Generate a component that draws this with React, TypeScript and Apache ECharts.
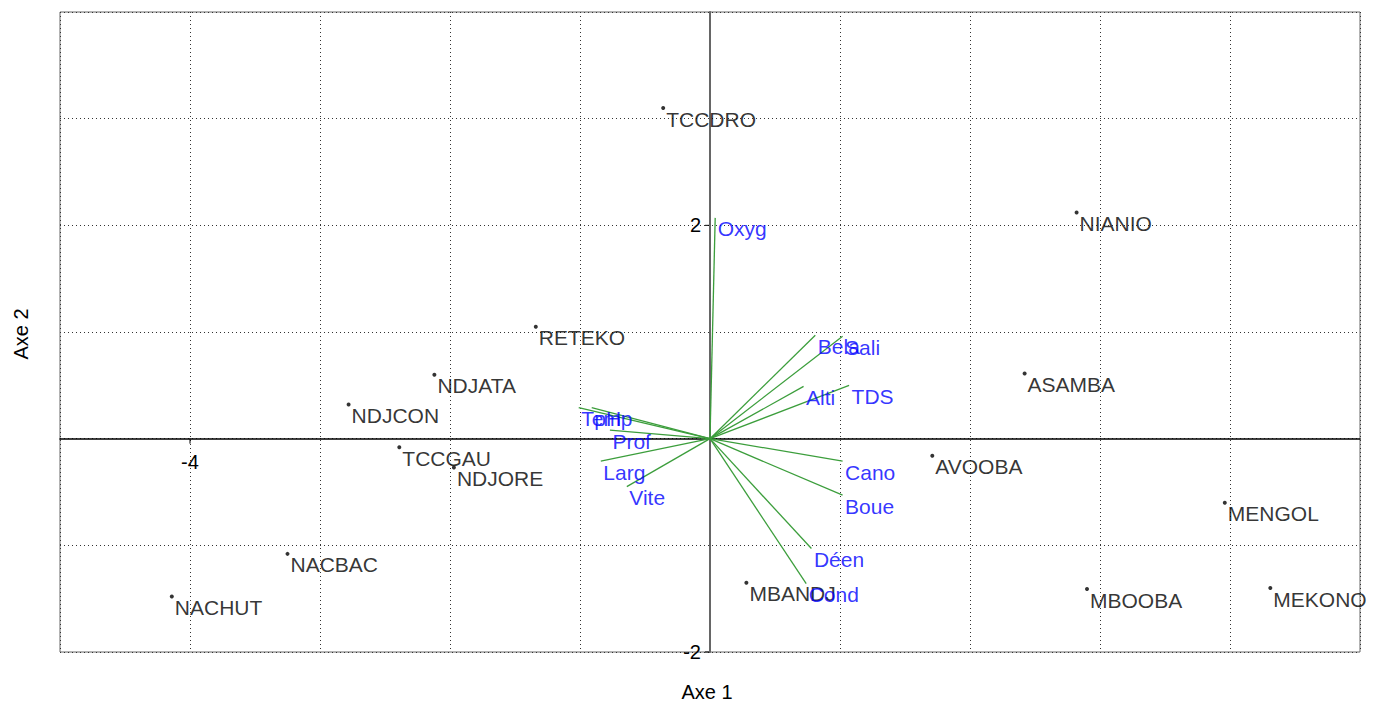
import React, { useEffect, useRef } from "react";
import * as echarts from "echarts";

const siteNames = ["TCCDRO", "NIANIO", "RETEKO", "ASAMBA", "NDJATA", "NDJCON", "TCCGAU", "NDJORE", "NACBAC", "NACHUT", "AVOOBA", "MENGOL", "MBOOBA", "MEKONO", "MBANDJ"];
const siteX = [-0.36, 2.82, -1.34, 2.42, -2.12, -2.78, -2.39, -1.97, -3.25, -4.14, 1.71, 3.96, 2.9, 4.31, 0.28];
const siteY = [3.1, 2.12, 1.05, 0.61, 0.6, 0.32, -0.08, -0.27, -1.08, -1.48, -0.16, -0.6, -1.41, -1.4, -1.35];

const varNames = ["Oxyg", "Bela", "Sali", "Alti", "TDS", "Temp", "pH", "Prof", "Larg", "Vite", "Cano", "Boue", "Déen", "Cond"];
const varX = [0.04, 0.81, 1.02, 0.72, 1.07, -1.01, -0.91, -0.77, -0.84, -0.64, 1.02, 1.02, 0.78, 0.74];
const varY = [2.07, 0.97, 0.96, 0.49, 0.5, 0.29, 0.29, 0.08, -0.21, -0.45, -0.21, -0.53, -1.03, -1.36];

const xTickLabels = [-4];
const yTickLabels = [2, -2];

const FONT = "'Liberation Sans', Arial, sans-serif";

export default function App() {
  const ref = useRef<HTMLDivElement>(null);
  useEffect(() => {
    document.body.style.margin = "0";
    const chart = echarts.init(ref.current!, null, { renderer: "svg" });
    const splitLine = { show: true, lineStyle: { color: "#333", type: [1, 3] as any, width: 1 } };
    const labelCommon = {
      show: true,
      position: "right",
      offset: [0, 11],
      formatter: (p: any) => p.name,
      fontSize: 21,
      fontFamily: FONT,
    };
    chart.setOption({
      animation: false,
      backgroundColor: "#fff",
      textStyle: { fontFamily: FONT },
      grid: { left: 60, right: 26, top: 12, bottom: 52, show: true, borderColor: "#666", borderWidth: 1 },
      xAxis: {
        type: "value",
        min: -5,
        max: 5,
        interval: 1,
        axisLine: { onZero: true, lineStyle: { color: "#000", width: 1.5 } },
        axisTick: { show: false },
        axisLabel: { show: false },
        splitLine,
      },
      yAxis: {
        type: "value",
        min: -2,
        max: 4,
        interval: 1,
        axisLine: { onZero: true, lineStyle: { color: "#666", width: 2 } },
        axisTick: { show: false },
        axisLabel: { show: false },
        splitLine,
      },
      series: [
        {
          type: "lines",
          coordinateSystem: "cartesian2d",
          silent: true,
          lineStyle: { color: "#3c9e3c", width: 1.3, opacity: 1 },
          data: varNames.map((n, i) => ({ coords: [[0, 0], [varX[i], varY[i]]] })),
          z: 3,
        },
        {
          type: "scatter",
          symbolSize: 4,
          itemStyle: { color: "#000" },
          data: siteNames.map((n, i) => ({ name: n, value: [siteX[i], siteY[i]] })),
          label: { ...labelCommon, distance: 1, color: "#000" },
          z: 4,
        },
        {
          type: "scatter",
          symbolSize: 1,
          itemStyle: { color: "rgba(0,0,0,0)" },
          data: varNames.map((n, i) => ({ name: n, value: [varX[i], varY[i]] })),
          label: { ...labelCommon, distance: 2, color: "#0000ff" },
          z: 5,
        },
      ],
    });

    // tick labels placed at the axes drawn through the origin, positioned with the chart's own scales
    const g: any[] = [
      { type: "text", x: 707, y: 692, style: { text: "Axe 1", fontSize: 20, fontFamily: FONT, fill: "#000", textAlign: "center", textVerticalAlign: "middle" } },
      { type: "text", x: 21, y: 334, rotation: Math.PI / 2, style: { text: "Axe 2", fontSize: 20, fontFamily: FONT, fill: "#000", textAlign: "center", textVerticalAlign: "middle" } },
    ];
    xTickLabels.forEach((v) => {
      const p = chart.convertToPixel({ gridIndex: 0 }, [v, 0]) as number[];
      g.push({ type: "line", shape: { x1: p[0], y1: p[1], x2: p[0], y2: p[1] + 5 }, style: { stroke: "#000", lineWidth: 1 } });
      g.push({ type: "text", x: p[0], y: p[1] + 23, style: { text: String(v), fontSize: 20, fontFamily: FONT, fill: "#000", textAlign: "center", textVerticalAlign: "middle" } });
    });
    yTickLabels.forEach((v) => {
      const p = chart.convertToPixel({ gridIndex: 0 }, [0, v]) as number[];
      g.push({ type: "line", shape: { x1: p[0] - 5, y1: p[1], x2: p[0], y2: p[1] }, style: { stroke: "#000", lineWidth: 1 } });
      g.push({ type: "text", x: p[0] - 9, y: p[1], style: { text: String(v), fontSize: 20, fontFamily: FONT, fill: "#000", textAlign: "right", textVerticalAlign: "middle" } });
    });
    chart.setOption({ graphic: g });
    return () => chart.dispose();
  }, []);
  return <div ref={ref} style={{ position: "absolute", left: 0, top: 0, width: 1386, height: 704 }} />;
}
